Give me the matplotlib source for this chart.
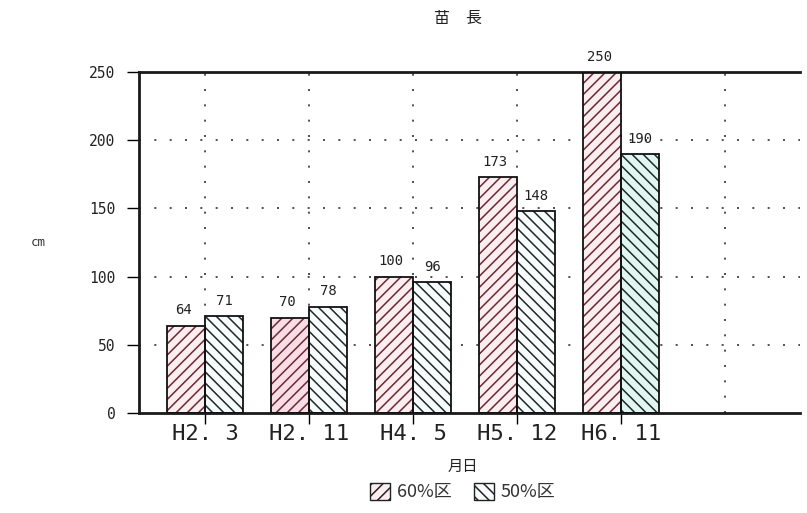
import matplotlib
matplotlib.use("Agg")
import matplotlib.pyplot as plt
import matplotlib.patches as mpatches
import numpy as np

plt.rcParams['font.family'] = ['DejaVu Sans Mono', 'Noto Sans CJK JP']
plt.rcParams['hatch.linewidth'] = 1.1

title = "苗　長"
categories = ["H2. 3", "H2. 11", "H4. 5", "H5. 12", "H6. 11"]
series_names = ["60%区", "50%区"]
vals_60 = [64, 70, 100, 173, 250]
vals_50 = [71, 78, 96, 148, 190]
y_ticks = [0, 50, 100, 150, 200, 250]

fig = plt.figure(figsize=(8.07, 5.13), dpi=100)
ax = fig.add_axes([139/807, 1-413/513, (800-139)/807, (413-72)/513])

x = np.arange(len(categories))
w = 0.365
fill60, hatch60 = "#fcedf0", "#6a2a30"
fill50, hatch50 = "#f8fcfc", "#1e2a28"
fills50 = [fill50, fill50, fill50, fill50, "#e2f6f1"]
fills60 = [fill60, "#f9dde6", fill60, fill60, fill60]

# fills + hatches
ax.bar(x - w/2, vals_60, w, color=fills60, edgecolor=hatch60, hatch='///', linewidth=0, zorder=2)
ax.bar(x + w/2, vals_50, w, color=fills50, edgecolor=hatch50, hatch='\\\\\\', linewidth=0, zorder=2)
# outlines
ax.bar(x - w/2, vals_60, w, fill=False, edgecolor="#111111", linewidth=1.3, zorder=3)
ax.bar(x + w/2, vals_50, w, fill=False, edgecolor="#111111", linewidth=1.3, zorder=3)

for xi, v in zip(x - w/2, vals_60):
    ax.annotate(str(v), (xi, v), xytext=(-2, 6), textcoords="offset points",
                ha="center", va="bottom", fontsize=10, color="#222222", zorder=4)
for xi, v in zip(x + w/2, vals_50):
    ax.annotate(str(v), (xi, v), xytext=(0, 6), textcoords="offset points",
                ha="center", va="bottom", fontsize=10, color="#222222", zorder=4)

ax.set_xlim(-0.635, 5.72)
ax.set_ylim(0, 250)
ax.set_yticks(y_ticks)
ax.set_yticklabels([str(t) for t in y_ticks], fontsize=10.5, color="#222222")
ax.set_xticks(x)
ax.set_xticklabels(categories, fontsize=16, color="#222222")
ax.tick_params(axis='y', length=9, width=1, direction='out', pad=8)
ax.tick_params(axis='x', length=8, width=1, direction='out', pad=0)

# gridlines
for gy in [50, 100, 150, 200]:
    ax.axhline(gy, color="#333333", linewidth=1.2, linestyle=(0, (1.2, 8)), zorder=1)
for gx in range(len(categories) + 1):
    ax.axvline(gx, color="#333333", linewidth=1.2, linestyle=(0, (1.2, 8)), zorder=1)

for s in ['left', 'bottom', 'top']:
    ax.spines[s].set_linewidth(2)
    ax.spines[s].set_color("#1a1a1a")
ax.spines['right'].set_visible(False)

fig.text(458/807, 1-18/513, title, ha="center", va="center", fontsize=11.5,
         family=['Noto Sans CJK JP', 'DejaVu Sans'], color="#222222")
fig.text(38/807, 1-243/513, "cm", ha="center", va="center", fontsize=9, color="#333333")
fig.text(463/807, 1-466/513, "月日", ha="center", va="center", fontsize=11,
         family=['Noto Sans CJK JP', 'DejaVu Sans'], color="#222222")

handles = [
    mpatches.Patch(facecolor=fill60, edgecolor="#222222", hatch='///', linewidth=1),
    mpatches.Patch(facecolor=fill50, edgecolor="#222222", hatch='\\\\\\', linewidth=1),
]
leg = fig.legend(handles, series_names, loc="center", bbox_to_anchor=(463/807, 1-492/513),
                 ncol=2, frameon=False, handlelength=1.1, handleheight=1.1,
                 handletextpad=0.4, columnspacing=1.2,
                 prop={'family': ['Noto Sans CJK JP', 'DejaVu Sans'], 'size': 13})
for t in leg.get_texts():
    t.set_color("#333333")

fig.savefig("out.png", dpi=100)
